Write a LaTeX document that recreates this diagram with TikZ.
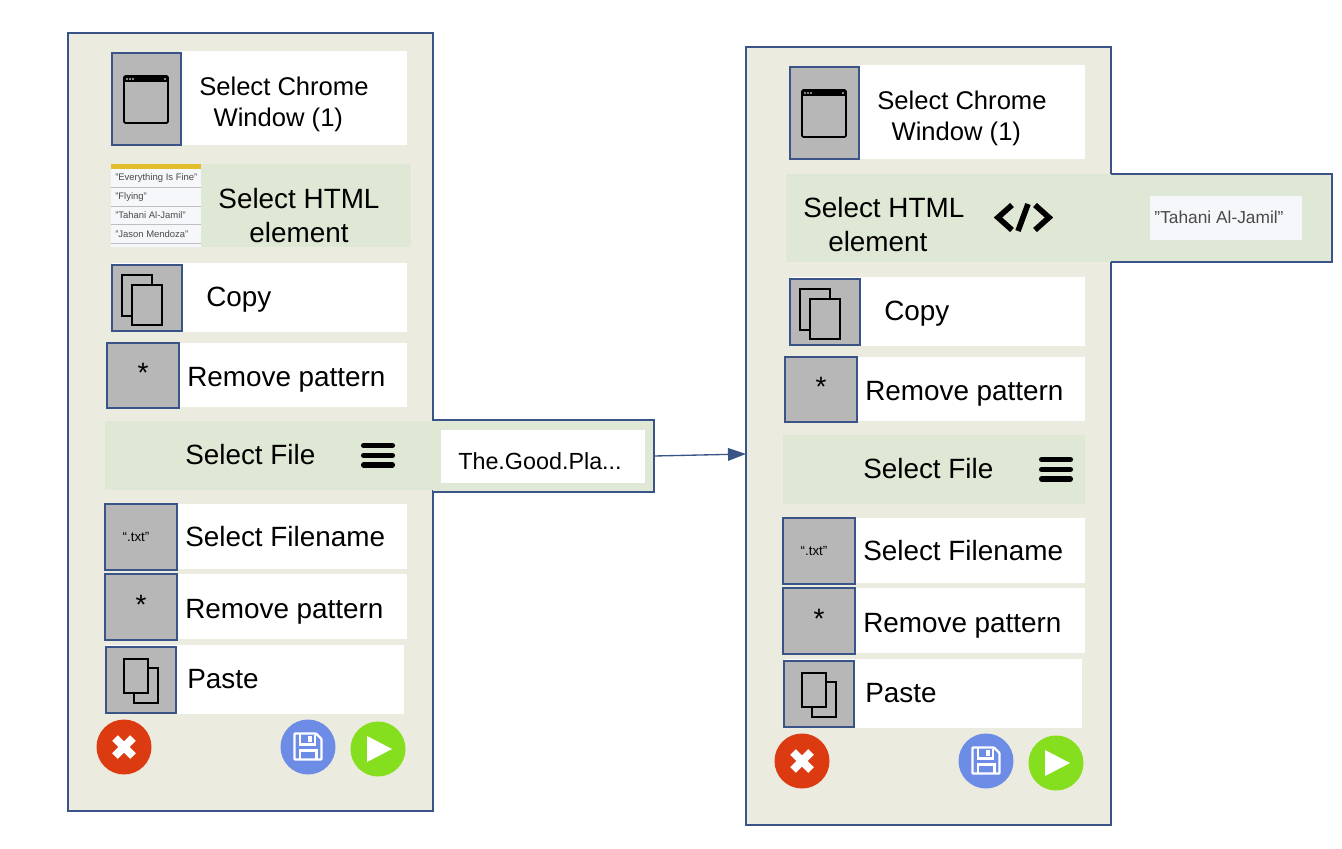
\documentclass[tikz,border=0pt]{standalone}
\usepackage{fontspec}
\setmainfont{Liberation Sans}
\usetikzlibrary{arrows.meta}
\usetikzlibrary{positioning}
\definecolor{panelfill}{HTML}{EBEBE0}
\definecolor{panelline}{HTML}{3B5488}
\definecolor{rowgreen}{HTML}{DEE8D5}
\definecolor{icongray}{HTML}{B7B7B7}
\definecolor{listfill}{HTML}{F6F7FA}
\definecolor{listbar}{HTML}{E2BE2E}
\definecolor{listtext}{HTML}{4A4A4A}
\definecolor{btnred}{HTML}{DC3B12}
\definecolor{btnblue}{HTML}{6C8CE6}
\definecolor{btngreen}{HTML}{85DE1E}
\def\px{.75pt}
\def\qt{\symbol{34}}
\tikzset{
  sz/.style 2 args={minimum width=#1*\px,minimum height=#2*\px}, % Groesse in Pixeln
  box/.style={inner sep=0pt,outer sep=0pt},
  panelbox/.style={box,draw=panelline,line width=1pt,fill=panelfill},
  whitebox/.style={box,fill=white},
  greenbox/.style={box,fill=rowgreen},
  iconbox/.style={box,draw=panelline,line width=.9pt,fill=icongray},
  label/.style={inner sep=0pt,font=\fontsize{20.9}{25.5}\selectfont},
  small label/.style={inner sep=0pt,font=\fontsize{19.2}{22.9}\selectfont},
  star/.style={inner sep=0pt,font=\fontsize{21}{25}\selectfont},
  button/.style={circle,box,minimum size=55*\px},
  glyph/.style={draw=black,line width=1.3pt},
  thin glyph/.style={draw=black,line width=.8pt}
}
% alles was in beiden Fenstern gleich ist
\newcommand\commonrows{%
\node[panelbox,sz={365}{778}] (panel) at (250.5,422) {};
%Chrome Fenster
\node[whitebox,sz={226}{94}] (winrow) at (294,98) {};
\node[iconbox,sz={69}{92}] (winicon) at (146.5,99) {};
\node[small label,anchor=west,align=left] (wintext) at (199,104.5) {Select Chrome\\\hspace*{10\px}Window (1)};
\draw[glyph,rounded corners=1pt] (124,76) rectangle (168,123);
\fill[black] (124,76) rectangle (168,82);
\foreach \x in {127,130,133,165} \fill[icongray] (\x,79) circle (.8pt);
%Copy
\node[whitebox,sz={295}{69}] (copyrow) at (259.5,297.5) {};
\node[iconbox,sz={70}{66}] (copyicon) at (147,298) {};
\node[label,anchor=base west] (copytext) at (206,306) {Copy};
\draw[glyph] (122,275) rectangle (152,316);
\draw[glyph,fill=icongray] (132,285) rectangle (162,325);
%Remove pattern
\node[whitebox,sz={300}{64}] (removerow) at (257,375) {};
\node[iconbox,sz={72}{65}] (removeicon) at (143,375.5) {};
\node[star] (removestar) at (143,373) {*};
\node[label,anchor=base west] (removetext) at (187,386) {Remove pattern};
%Select Filename
\node[whitebox,sz={302}{65}] (namerow) at (256,536.5) {};
\node[iconbox,sz={72}{66}] (nameicon) at (141,537) {};
\node[inner sep=0pt,font=\fontsize{10}{12}\selectfont] (nametxt) at (136,537) {“.txt”};
\node[label,anchor=base west] (nametext) at (185,546.5) {Select Filename};
%Remove pattern 2
\node[whitebox,sz={302}{65}] (removerowb) at (256,606.5) {};
\node[iconbox,sz={72}{66}] (removeiconb) at (141,607) {};
\node[star] (removestarb) at (141,605) {*};
\node[label,anchor=base west] (removetextb) at (185,618) {Remove pattern};
%Paste
\node[whitebox,sz={298}{69}] (pasterow) at (255,679.5) {};
\node[iconbox,sz={70}{66}] (pasteicon) at (141,680) {};
\node[label,anchor=base west] (pastetext) at (187,688) {Paste};
\draw[thin glyph] (134,668) rectangle (158,703);
\draw[thin glyph,fill=icongray] (124,659) rectangle (148,693);
%Knoepfe
\node[button,fill=btnred] (cancel) at (124,747) {};
\draw[white,line width=6pt] (115,738) -- (133,756);
\draw[white,line width=6pt] (133,738) -- (115,756);
\node[button,fill=btnblue] (save) at (308,747) {};
\draw[white,line width=1.7pt,rounded corners=.5pt] (294.5,733.5) -- (316,733.5) -- (321.5,739) -- (321.5,759.5) -- (294.5,759.5) -- cycle;
\draw[white,line width=1.7pt] (300,734) -- (300,744.5) -- (315,744.5) -- (315,735);
\draw[white,line width=1.7pt] (300,759) -- (300,750.5) -- (316.5,750.5) -- (316.5,759);
\fill[white] (308,735.5) rectangle (312,742);
\node[button,fill=btngreen] (run) at (378,749) {};
\fill[white] (367,736) -- (392,749) -- (367,762) -- cycle;
}
\begin{document}
\begin{tikzpicture}[x=.75pt,y=-.75pt]
\useasboundingbox (0,0) rectangle (1342,849);

\begin{scope}[name prefix=L-]
\commonrows
%Select HTML mit Liste
\node[greenbox,sz={300}{83}] (htmlrow) at (261,205.5) {};
\node[box,fill=listfill,sz={90}{83}] (listbox) at (156,205.5) {};
\fill[listbar] (111,164) rectangle (201,169);
\foreach \y in {187,206,224,243} \draw[gray!50,line width=.4pt] (111,\y) -- (201,\y);
\foreach \i/\y/\t in {1/178.5/\qt Everything Is Fine\qt,2/197.5/\qt Flying\qt,3/215.5/\qt Tahani Al-Jamil\qt,4/234.5/\qt Jason Mendoza\qt}
  \node[inner sep=0pt,anchor=west,text=listtext,font=\fontsize{7.1}{8}\selectfont] (list\i) at (115,\y) {\t};
\node[label,align=center] (htmltext) at (299,216) {Select HTML\\element};
%Select File
\node[greenbox,sz={328}{69}] (filerow) at (269,455.5) {};
\node[label,anchor=base west] (filetext) at (185,464) {Select File};
\foreach \y in {445.5,455.5,465} \draw[black,line width=3.8pt,line cap=round] (363.5,\y) -- (392.5,\y);
\node[greenbox,sz={221}{72}] (filedetail) at (543.5,456) {};
\draw[panelline,line width=1pt] (filedetail.north west) -- (filedetail.north east) -- (filedetail.south east) -- (filedetail.south west);
\node[whitebox,sz={204}{53}] (filevalue) at (543,456.5) {};
\node[inner sep=0pt,anchor=base west,font=\fontsize{17.5}{21}\selectfont] (filevaluetext) at (458,469) {The.Good.Pla...};
\end{scope}

\begin{scope}[name prefix=R-,shift={(678,14)}]
\commonrows
\coordinate (arrowend) at (68,440);
%Select File
\node[greenbox,sz={302}{69}] (filerow) at (256,455.5) {};
\node[label,anchor=base west] (filetext) at (185,464) {Select File};
\foreach \y in {445.5,455.5,465} \draw[black,line width=3.8pt,line cap=round] (363.5,\y) -- (392.5,\y);
%Select HTML mit Wert
\node[greenbox,sz={325}{88}] (htmlrow) at (270.5,204) {};
\node[greenbox,sz={221}{88}] (htmldetail) at (543.5,204) {};
\draw[panelline,line width=1pt] (htmldetail.north west) -- (htmldetail.north east) -- (htmldetail.south east) -- (htmldetail.south west);
\node[label,anchor=west,align=left] (htmltext) at (125,211) {Select HTML\\\hspace*{18\px}element};
\draw[black,line width=4.2pt] (334,191) -- (320,203.5) -- (334,216);
\draw[black,line width=4.2pt] (350,190) -- (340,217);
\draw[black,line width=4.2pt] (357,191) -- (371,203.5) -- (357,216);
\node[box,fill=listfill,sz={152}{44}] (htmlvalue) at (548,204) {};
\node[inner sep=0pt,text=listtext,font=\fontsize{13}{16}\selectfont] (htmlvaluetext) at (541,203) {\qt Tahani Al-Jamil\qt};
\end{scope}

%Pfeil
\draw[panelline,line width=1pt,-{Triangle[length=13.5pt,width=9.5pt]}] (L-filedetail.east) -- (R-arrowend);
\end{tikzpicture}
\end{document}
